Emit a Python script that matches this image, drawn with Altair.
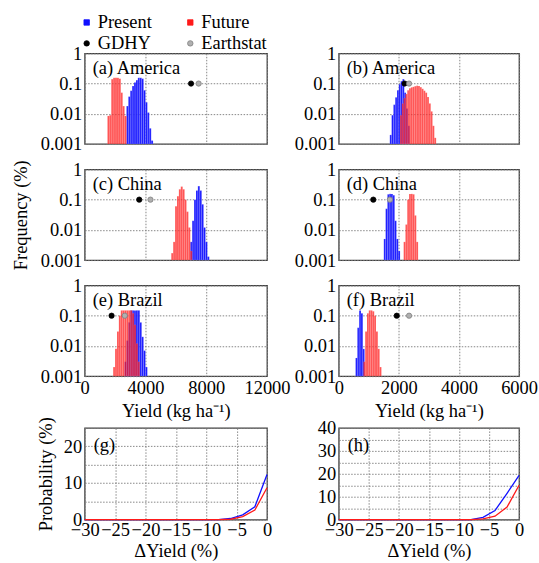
import altair as alt
import pandas as pd

FONT = "Liberation Serif"
FS = 18.5
BLUE = "#1010ff"
RED = "#ff1a1a"

# ---------------- data ----------------
left_bin_width = 125   # kg/ha (left column, 0-12000)
right_bin_width = 60   # kg/ha (right column, 0-6000)

# (a) America, left column
a_present_start = 2750
a_present = [0.018, 0.037, 0.058, 0.083, 0.108, 0.13, 0.155, 0.155, 0.145, 0.06, 0.024, 0.011, 0.0033, 0.0013]
a_future_start = 1500
a_future = [0.0085, 0.009, 0.14, 0.155, 0.155, 0.155, 0.145, 0.05, 0.018, 0.0085]
a_obs = [7000, 7500]  # GDHY, Earthstat

# (b) America, right column
b_present_start = 1700
b_present = [0.002, 0.009, 0.02, 0.035, 0.06, 0.095, 0.12, 0.14, 0.05, 0.015, 0.004]
b_future_start = 2040
b_future = [0.009, 0.022, 0.033, 0.045, 0.06, 0.07, 0.075, 0.078, 0.082, 0.085,
            0.083, 0.076, 0.067, 0.058, 0.05, 0.036, 0.022, 0.012, 0.004, 0.0016]
b_obs = [2190, 2340]

# (c) China, left column
c_present_start = 6950
c_present = [0.004, 0.02, 0.1, 0.2, 0.28, 0.2, 0.07, 0.012, 0.004, 0.0013]
c_future_start = 5700
c_future = [0.0017, 0.004, 0.06, 0.13, 0.22, 0.27, 0.22, 0.1, 0.04, 0.012, 0.002]
c_obs = [3590, 4330]

# (d) China, right column
d_present_start = 1500
d_present = [0.005, 0.05, 0.15, 0.155, 0.155, 0.14, 0.02, 0.005, 0.002]
d_future_start = 2160
d_future = [0.004, 0.015, 0.1, 0.155, 0.155, 0.15, 0.03, 0.004]
d_obs = [1150, 1700]

# (e) Brazil, left column
e_present_start = 2625
e_present = [0.003, 0.015, 0.06, 0.15, 0.15, 0.15, 0.15, 0.15, 0.06, 0.02, 0.007, 0.002]
e_future_start = 1875
e_future = [0.002, 0.008, 0.03, 0.1, 0.15, 0.15, 0.15, 0.15, 0.15, 0.15, 0.12, 0.05, 0.012, 0.003]
e_obs = [1770, 2640]

# (f) Brazil, right column
f_present_start = 560
f_present = [0.004, 0.04, 0.15, 0.12, 0.008]
f_future_start = 820
f_future = [0.003, 0.03, 0.12, 0.15, 0.15, 0.14, 0.1, 0.03, 0.008, 0.002]
f_obs = [1930, 2340]

# (g), (h) probability of yield loss
dyield = [-30, -28, -26, -24, -22, -20, -18, -16, -14, -12, -10, -8, -6, -4, -2, 0]
g_present = [0, 0, 0, 0, 0, 0, 0, 0, 0, 0, 0, 0, 0.3, 1.3, 3.5, 12.3]
g_future = [0, 0, 0, 0, 0, 0, 0, 0, 0, 0, 0, 0, 0.1, 0.8, 2.6, 8.7]
h_present = [0, 0, 0, 0, 0, 0, 0, 0, 0, 0, 0, 0, 1.0, 4.0, 11.5, 19.3]
h_future = [0, 0, 0, 0, 0, 0, 0, 0, 0, 0, 0, 0, 0.3, 1.5, 5.5, 15.0]

legend_labels = ["Present", "Future", "GDHY", "Earthstat"]

ROW_GAP = 25.5

# ---------------- helpers ----------------
def hist_df(start, width, values):
    rows = []
    for i, v in enumerate(values):
        x0 = start + i * width
        rows.append({"x0": x0, "x1": x0 + width, "freq": v, "base": 0.001})
    return pd.DataFrame(rows)


grid_kw = dict(gridColor="#7a7a7a", gridDash=[1.5, 1.5], gridWidth=0.9, ticks=False, domain=False,
               labelFont=FONT, labelFontSize=FS, titleFont=FONT, titleFontSize=FS,
               titleFontWeight="normal", labelColor="black", titleColor="black",
               labelFlush=False, labelOverlap=False)


def hist_panel(label, present, future, obs, left=True, show_x=False, ytitle=None, width=183):
    xmax = 12000 if left else 6000
    gstep = 2000 if left else 1000
    lstep = 4000 if left else 2000
    xvals = list(range(0, xmax + 1, gstep))
    xscale = alt.Scale(domain=[0, xmax], nice=False, zero=False)
    yscale = alt.Scale(type="log", domain=[0.001, 1], nice=False)
    xaxis = alt.Axis(values=xvals, format="d",
                     labelExpr=f"datum.value % {lstep} == 0 ? datum.label : ''",
                     labels=show_x, title="Yield (kg ha\u207b\u00b9)" if show_x else None,
                     labelPadding=2, titlePadding=5, **grid_kw)
    yaxis = alt.Axis(values=[0.001, 0.01, 0.1, 1], format="~g", title=ytitle,
                     labelPadding=3, titlePadding=10, **grid_kw)
    bw = left_bin_width if left else right_bin_width
    pdf = hist_df(present[0], bw, present[1])
    fdf = hist_df(future[0], bw, future[1])
    base = alt.Chart(pdf).mark_rect(color=BLUE, opacity=0.95, stroke="white",
                                    strokeWidth=0.3, strokeOpacity=0.5).encode(
        x=alt.X("x0:Q", scale=xscale, axis=xaxis),
        x2="x1:Q",
        y=alt.Y("freq:Q", scale=yscale, axis=yaxis),
        y2="base:Q",
    )
    fut = alt.Chart(fdf).mark_rect(color=RED, opacity=0.75, stroke="white",
                                   strokeWidth=0.3, strokeOpacity=0.4).encode(
        x=alt.X("x0:Q", scale=xscale), x2="x1:Q",
        y=alt.Y("freq:Q", scale=yscale), y2="base:Q",
    )
    odf = pd.DataFrame({"source": ["GDHY", "Earthstat"], "yield": obs, "freq": [0.1, 0.1]})
    pts = alt.Chart(odf).mark_point(filled=True, size=28, strokeWidth=0.8, opacity=1).encode(
        x=alt.X("yield:Q", scale=xscale),
        y=alt.Y("freq:Q", scale=yscale),
        fill=alt.Fill("source:N", scale=alt.Scale(domain=["GDHY", "Earthstat"], range=["#000000", "#b0b0b0"]), legend=None),
        stroke=alt.Stroke("source:N", scale=alt.Scale(domain=["GDHY", "Earthstat"], range=["#000000", "#808080"]), legend=None),
    )
    txt = alt.Chart(pd.DataFrame({"t": [label]})).mark_text(
        align="left", baseline="middle", font=FONT, fontSize=FS, color="black"
    ).encode(text="t:N", x=alt.value(8), y=alt.value(15))
    return alt.layer(base, fut, pts, txt).properties(width=width, height=91)


def prob_panel(label, present, future, ymax, ytitle=None, width=183):
    df = pd.DataFrame({
        "dy": dyield * 2,
        "p": present + future,
        "s": ["Present"] * len(dyield) + ["Future"] * len(dyield),
    })
    xscale = alt.Scale(domain=[-30, 0], nice=False)
    yscale = alt.Scale(domain=[0, ymax], nice=False)
    line = alt.Chart(df).mark_line(strokeWidth=1.3).encode(
        x=alt.X("dy:Q", scale=xscale,
                axis=alt.Axis(values=list(range(-30, 1, 5)), title="\u0394Yield (%)",
                              labelPadding=1, titlePadding=3, **grid_kw)),
        y=alt.Y("p:Q", scale=yscale,
                axis=alt.Axis(values=list(range(0, ymax + 1, 5)), title=ytitle,
                              labelExpr="datum.value % 10 == 0 ? datum.label : ''",
                              labelPadding=3, titlePadding=8, **grid_kw)),
        color=alt.Color("s:N", scale=alt.Scale(domain=["Present", "Future"], range=[BLUE, RED]), legend=None),
        order=alt.Order("dy:Q"),
    )
    txt = alt.Chart(pd.DataFrame({"t": [label]})).mark_text(
        align="left", baseline="middle", font=FONT, fontSize=FS, color="black"
    ).encode(text="t:N", x=alt.value(9), y=alt.value(17))
    return alt.layer(line, txt).properties(width=width, height=92)


def spacer(w, h):
    return alt.Chart(pd.DataFrame({"z": [0]})).mark_point(opacity=0).encode(
        x=alt.value(0), y=alt.value(0)
    ).properties(width=w, height=h, view=alt.ViewBackground(stroke=None))


# ---------------- panels ----------------
pa = hist_panel("(a) America", (a_present_start, a_present), (a_future_start, a_future), a_obs, left=True)
pb = hist_panel("(b) America", (b_present_start, b_present), (b_future_start, b_future), b_obs, left=False, width=181)
pc = hist_panel("(c) China", (c_present_start, c_present), (c_future_start, c_future), c_obs, left=True, ytitle="Frequency (%)")
pd_ = hist_panel("(d) China", (d_present_start, d_present), (d_future_start, d_future), d_obs, left=False, width=181)
pe = hist_panel("(e) Brazil", (e_present_start, e_present), (e_future_start, e_future), e_obs, left=True, show_x=True)
pf = hist_panel("(f) Brazil", (f_present_start, f_present), (f_future_start, f_future), f_obs, left=False, show_x=True, width=181)
pg = prob_panel("(g)", g_present, g_future, 25, ytitle="Probability (%)")
ph = prob_panel("(h)", h_present, h_future, 40, width=181)

# legend view (sits in the row above panel a; symbols drawn above and below its small box)
LEG_H = 1
leg_top = 52 - ROW_GAP - LEG_H           # pixel position of the legend box top
ldf = pd.DataFrame({
    "label": legend_labels,
    "col": [0, 1, 0, 1],
    "row": [0, 0, 1, 1],
    "shape": ["square", "square", "circle", "circle"],
    "fill": [BLUE, RED, "#000000", "#b0b0b0"],
    "edge": [BLUE, RED, "#000000", "#808080"],
})
lx = alt.X("col:Q", scale=alt.Scale(domain=[0, 1], range=[2, 106]), axis=None)
ly = alt.Y("row:Q", scale=alt.Scale(domain=[0, 1], range=[21 - leg_top, 42 - leg_top]), axis=None)
lsym = alt.Chart(ldf).mark_point(filled=True, size=30, strokeWidth=0.8, opacity=1).encode(
    x=lx, y=ly,
    shape=alt.Shape("shape:N", scale=None),
    fill=alt.Fill("fill:N", scale=None),
    stroke=alt.Stroke("edge:N", scale=None),
)
ltxt = alt.Chart(ldf).mark_text(align="left", baseline="middle", dx=11, font=FONT, fontSize=FS, color="black").encode(
    x=lx, y=ly, text="label:N"
)
legend = alt.layer(lsym, ltxt).properties(width=183, height=LEG_H, view=alt.ViewBackground(stroke=None))

chart = alt.concat(
    legend, spacer(181, LEG_H),
    pa, pb,
    pc, pd_,
    pe, pf,
    spacer(183, 1), spacer(181, 1),
    pg, ph,
    columns=2,
    spacing={"row": ROW_GAP, "column": 72},
    bounds="flush",
).properties(
    padding={"left": 10, "top": 12, "right": 0, "bottom": 0},
    background="white",
).configure_view(stroke="#404040", strokeWidth=1.3).configure_axis(titleFontWeight="normal")

chart.save("out.html", embed_options={"renderer": "svg", "actions": False})
